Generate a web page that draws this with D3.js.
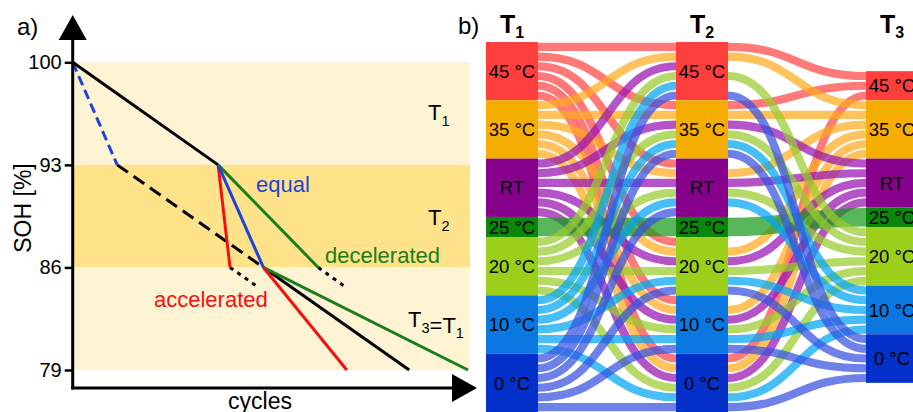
<!DOCTYPE html>
<html><head><meta charset="utf-8">
<script src="https://cdn.jsdelivr.net/npm/d3@7"></script>
<style>
body{margin:0;background:#fff}
svg{display:block}
text{font-family:"Liberation Sans",Arial,Helvetica,sans-serif}
</style>
</head><body>
<svg id="chart" width="913" height="412"></svg>
<script>
// ================= Panel a data =================
const sohTicks = [79, 86, 93, 100];
const zoneEdges = [100, 93, 86, 79];          // SOH limits of the three temperature zones
const zoneFills = ["#fef3d3", "#fee38b", "#fef3d3"];
const cycleDomain = [0, 100];
const sohDomain = [79, 100];

// line series: [cycles, SOH]
const blackSolidA  = [[0, 100], [36.6, 93]];
const blackSolidB  = [[48, 86], [84.7, 79]];
const blackDashed  = [[11.2, 93], [48, 86]];
const blueDashed   = [[0, 100], [11.2, 93]];
const blueSolid    = [[36.6, 93], [48, 86]];
const redSolidA    = [[36.6, 93], [39.6, 86]];
const redSolidB    = [[48, 86], [69, 79]];
const greenSolidA  = [[36.6, 93], [61.8, 86]];
const greenSolidB  = [[48, 86], [99.5, 79]];
const dottedA      = [[39.6, 86], [46.7, 84.65]];
const dottedB      = [[61.8, 86], [69, 84.6]];

// ================= Panel b data =================
const stages = ["T1", "T2", "T3"];
const temps = ["45 °C", "35 °C", "RT", "25 °C", "20 °C", "10 °C", "0 °C"];
const nodeColors = ["#ff3e3e", "#f5ae00", "#87008c", "#0a870a", "#9bcf1a", "#0b78e2", "#0331c9"];
const linkColors = ["#ff4545", "#ffab1e", "#9712b2", "#1a9a1a", "#98cc2c", "#00a5f2", "#3550e0"];
// lanes: [T1, T2, T3 (null = not continued), value]
const lanes = [
  ["45 °C","45 °C","45 °C",1], ["45 °C","35 °C","45 °C",1], ["45 °C","RT",null,1],
  ["45 °C","20 °C",null,1], ["45 °C","10 °C",null,1], ["45 °C","0 °C","45 °C",1],
  ["35 °C","45 °C","35 °C",1], ["35 °C","35 °C","35 °C",1], ["35 °C","RT","35 °C",1],
  ["35 °C","20 °C","35 °C",1], ["35 °C","10 °C","35 °C",1], ["35 °C","0 °C","35 °C",1],
  ["RT","45 °C",null,1], ["RT","35 °C","RT",1], ["RT","RT","RT",1],
  ["RT","20 °C","RT",1], ["RT","10 °C","RT",1], ["RT","0 °C","RT",1],
  ["25 °C","25 °C","25 °C",2.07],
  ["20 °C","45 °C","20 °C",1], ["20 °C","35 °C","20 °C",1], ["20 °C","RT","20 °C",1],
  ["20 °C","20 °C","20 °C",1], ["20 °C","10 °C","20 °C",1], ["20 °C","0 °C","20 °C",1],
  ["10 °C","45 °C",null,1], ["10 °C","35 °C","10 °C",1], ["10 °C","RT","10 °C",1],
  ["10 °C","20 °C","10 °C",1], ["10 °C","10 °C","10 °C",1], ["10 °C","0 °C","10 °C",1],
  ["0 °C","45 °C","0 °C",1], ["0 °C","35 °C","0 °C",1], ["0 °C","RT",null,1],
  ["0 °C","20 °C","0 °C",1], ["0 °C","10 °C","0 °C",1], ["0 °C","0 °C","0 °C",1]
];

// ================= Drawing =================
const svg = d3.select("#chart");
const FONT = '"Liberation Sans",Arial,Helvetica,sans-serif';

// ---------- Panel a ----------
const x = d3.scaleLinear().domain(cycleDomain).range([72.7, 470]);
const y = d3.scaleLinear().domain(sohDomain).range([370, 62.3]);
const ga = svg.append("g");

ga.selectAll("rect.zone").data(zoneFills).join("rect")
  .attr("x", x(0)).attr("width", x(100) - x(0))
  .attr("y", (d, i) => y(zoneEdges[i]))
  .attr("height", (d, i) => y(zoneEdges[i + 1]) - y(zoneEdges[i]))
  .attr("fill", d => d);

const line = d3.line().x(d => x(d[0])).y(d => y(d[1]));
const series = [
  {d: blackDashed, c: "#000", dash: "13,7"},
  {d: blueDashed, c: "#1f42d8", dash: "10,5"},
  {d: dottedA, c: "#000", dash: "4,5"},
  {d: dottedB, c: "#000", dash: "4,5"},
  {d: blackSolidA, c: "#000"},
  {d: blackSolidB, c: "#000"},
  {d: greenSolidA, c: "#1b7d1b"},
  {d: greenSolidB, c: "#1b7d1b"},
  {d: redSolidA, c: "#f21010"},
  {d: redSolidB, c: "#f21010"},
  {d: blueSolid, c: "#1f42d8"}
];
ga.selectAll("path.ser").data(series).join("path")
  .attr("d", s => line(s.d)).attr("fill", "none")
  .attr("stroke", s => s.c).attr("stroke-width", 3)
  .attr("stroke-dasharray", s => s.dash || null);

const yAxis = d3.axisLeft(y).tickValues(sohTicks).tickSize(8).tickPadding(3);
const gy = ga.append("g").attr("transform", `translate(${x(0)},0)`).call(yAxis);
gy.select(".domain").remove();
gy.selectAll(".tick line").attr("stroke", "#000").attr("stroke-width", 2.5);
gy.selectAll(".tick text").attr("font-size", 20).attr("fill", "#000").attr("font-family", FONT);

ga.append("line").attr("x1", x(0)).attr("x2", x(0)).attr("y1", 389.5).attr("y2", 38)
  .attr("stroke", "#000").attr("stroke-width", 3);
ga.append("line").attr("x1", x(0) - 1.5).attr("x2", 454).attr("y1", 388).attr("y2", 388)
  .attr("stroke", "#000").attr("stroke-width", 3);
ga.append("path").attr("d", `M${x(0)},15 L${x(0) - 14},40 L${x(0) + 14},40 Z`).attr("fill", "#000");
ga.append("path").attr("d", `M477,388 L452,374 L452,402 Z`).attr("fill", "#000");

ga.append("text").attr("x", 17).attr("y", 35).attr("font-size", 24).text("a)");
ga.append("text").attr("transform", "translate(31,208) rotate(-90)")
  .attr("text-anchor", "middle").attr("font-size", 23).text("SOH [%]");
ga.append("text").attr("x", 260).attr("y", 409).attr("text-anchor", "middle")
  .attr("font-size", 23).text("cycles");

function tLabel(g, xx, yy, parts, size) {
  const t = g.append("text").attr("x", xx).attr("y", yy).attr("font-size", size);
  parts.forEach(p => {
    if (p.sub) {
      t.append("tspan").attr("dy", size * 0.25).attr("font-size", size * 0.66).text(p.s);
      t.append("tspan").attr("dy", -size * 0.25).text("");
    } else t.append("tspan").text(p.s);
  });
  return t;
}
tLabel(ga, 428, 120, [{s: "T"}, {s: "1", sub: true}], 22);
tLabel(ga, 428, 225, [{s: "T"}, {s: "2", sub: true}], 22);
tLabel(ga, 408, 327, [{s: "T"}, {s: "3", sub: true}, {s: "=T"}, {s: "1", sub: true}], 22);
ga.append("text").attr("x", 256).attr("y", 192).attr("font-size", 22).attr("fill", "#1f42d8").text("equal");
ga.append("text").attr("x", 325).attr("y", 263).attr("font-size", 22).attr("fill", "#1b7d1b").text("decelerated");
ga.append("text").attr("x", 154).attr("y", 307).attr("font-size", 22).attr("fill", "#f21010").text("accelerated");

// ---------- Panel b ----------
const gb = svg.append("g");
gb.append("text").attr("x", 458).attr("y", 34).attr("font-size", 24).text("b)");

const colX = [486, 676, 866];
const nodeW = 52;
const topY = 42, fullH = 370;
const colIdx = [0, 1, 2];
const totals = colIdx.map(c => d3.sum(lanes.filter(l => l[c] !== null), l => l[3]));
const h = d3.scaleLinear().domain([0, totals[0]]).range([0, fullH]);

const nodes = [];
const pos = lanes.map(() => [null, null, null]);
colIdx.forEach(c => {
  let yy = topY + (fullH - h(totals[c])) / 2;
  temps.forEach((t, ti) => {
    const members = lanes.map((l, i) => i).filter(i => lanes[i][c] === t);
    if (!members.length) return;
    const sortCol = c === 1 ? 0 : 1;
    members.sort((a, b) => temps.indexOf(lanes[a][sortCol]) - temps.indexOf(lanes[b][sortCol]));
    const y0 = yy;
    let inner = y0;
    members.forEach(i => {
      const hh = h(lanes[i][3]);
      pos[i][c] = inner + hh / 2;
      inner += hh;
    });
    const nh = h(d3.sum(members, i => lanes[i][3]));
    nodes.push({c, t, ti, y0, h: nh});
    yy += nh;
  });
});

const link = d3.linkHorizontal();
const linkData = [];
lanes.forEach((l, i) => {
  const ci = temps.indexOf(l[0]);
  linkData.push({i, from: 0, to: 1, color: linkColors[ci], w: h(l[3])});
  if (l[2] !== null) linkData.push({i, from: 1, to: 2, color: linkColors[ci], w: h(l[3])});
});
gb.selectAll("path.link").data(linkData).join("path")
  .attr("d", d => link({source: [colX[d.from] + nodeW, pos[d.i][d.from]], target: [colX[d.to], pos[d.i][d.to]]}))
  .attr("fill", "none").attr("stroke", d => d.color)
  .attr("stroke-opacity", 0.72).attr("stroke-width", d => d.w - 1.6);

gb.selectAll("rect.node").data(nodes).join("rect")
  .attr("x", d => colX[d.c]).attr("y", d => d.y0)
  .attr("width", nodeW).attr("height", d => d.h)
  .attr("fill", d => nodeColors[d.ti]);

gb.selectAll("text.nl").data(nodes).join("text")
  .attr("x", d => colX[d.c] + nodeW / 2).attr("y", d => d.y0 + d.h / 2)
  .attr("text-anchor", "middle").attr("dy", "0.36em")
  .attr("font-size", 18.5).attr("fill", "#000").text(d => d.t);

stages.forEach((s, c) => {
  const t = gb.append("text").attr("x", colX[c] + nodeW / 2).attr("y", 33)
    .attr("text-anchor", "middle").attr("font-size", 25).attr("font-weight", "bold");
  t.append("tspan").text(s[0]);
  t.append("tspan").attr("dy", 5).attr("font-size", 16).text(s.slice(1));
});
</script>
</body></html>
